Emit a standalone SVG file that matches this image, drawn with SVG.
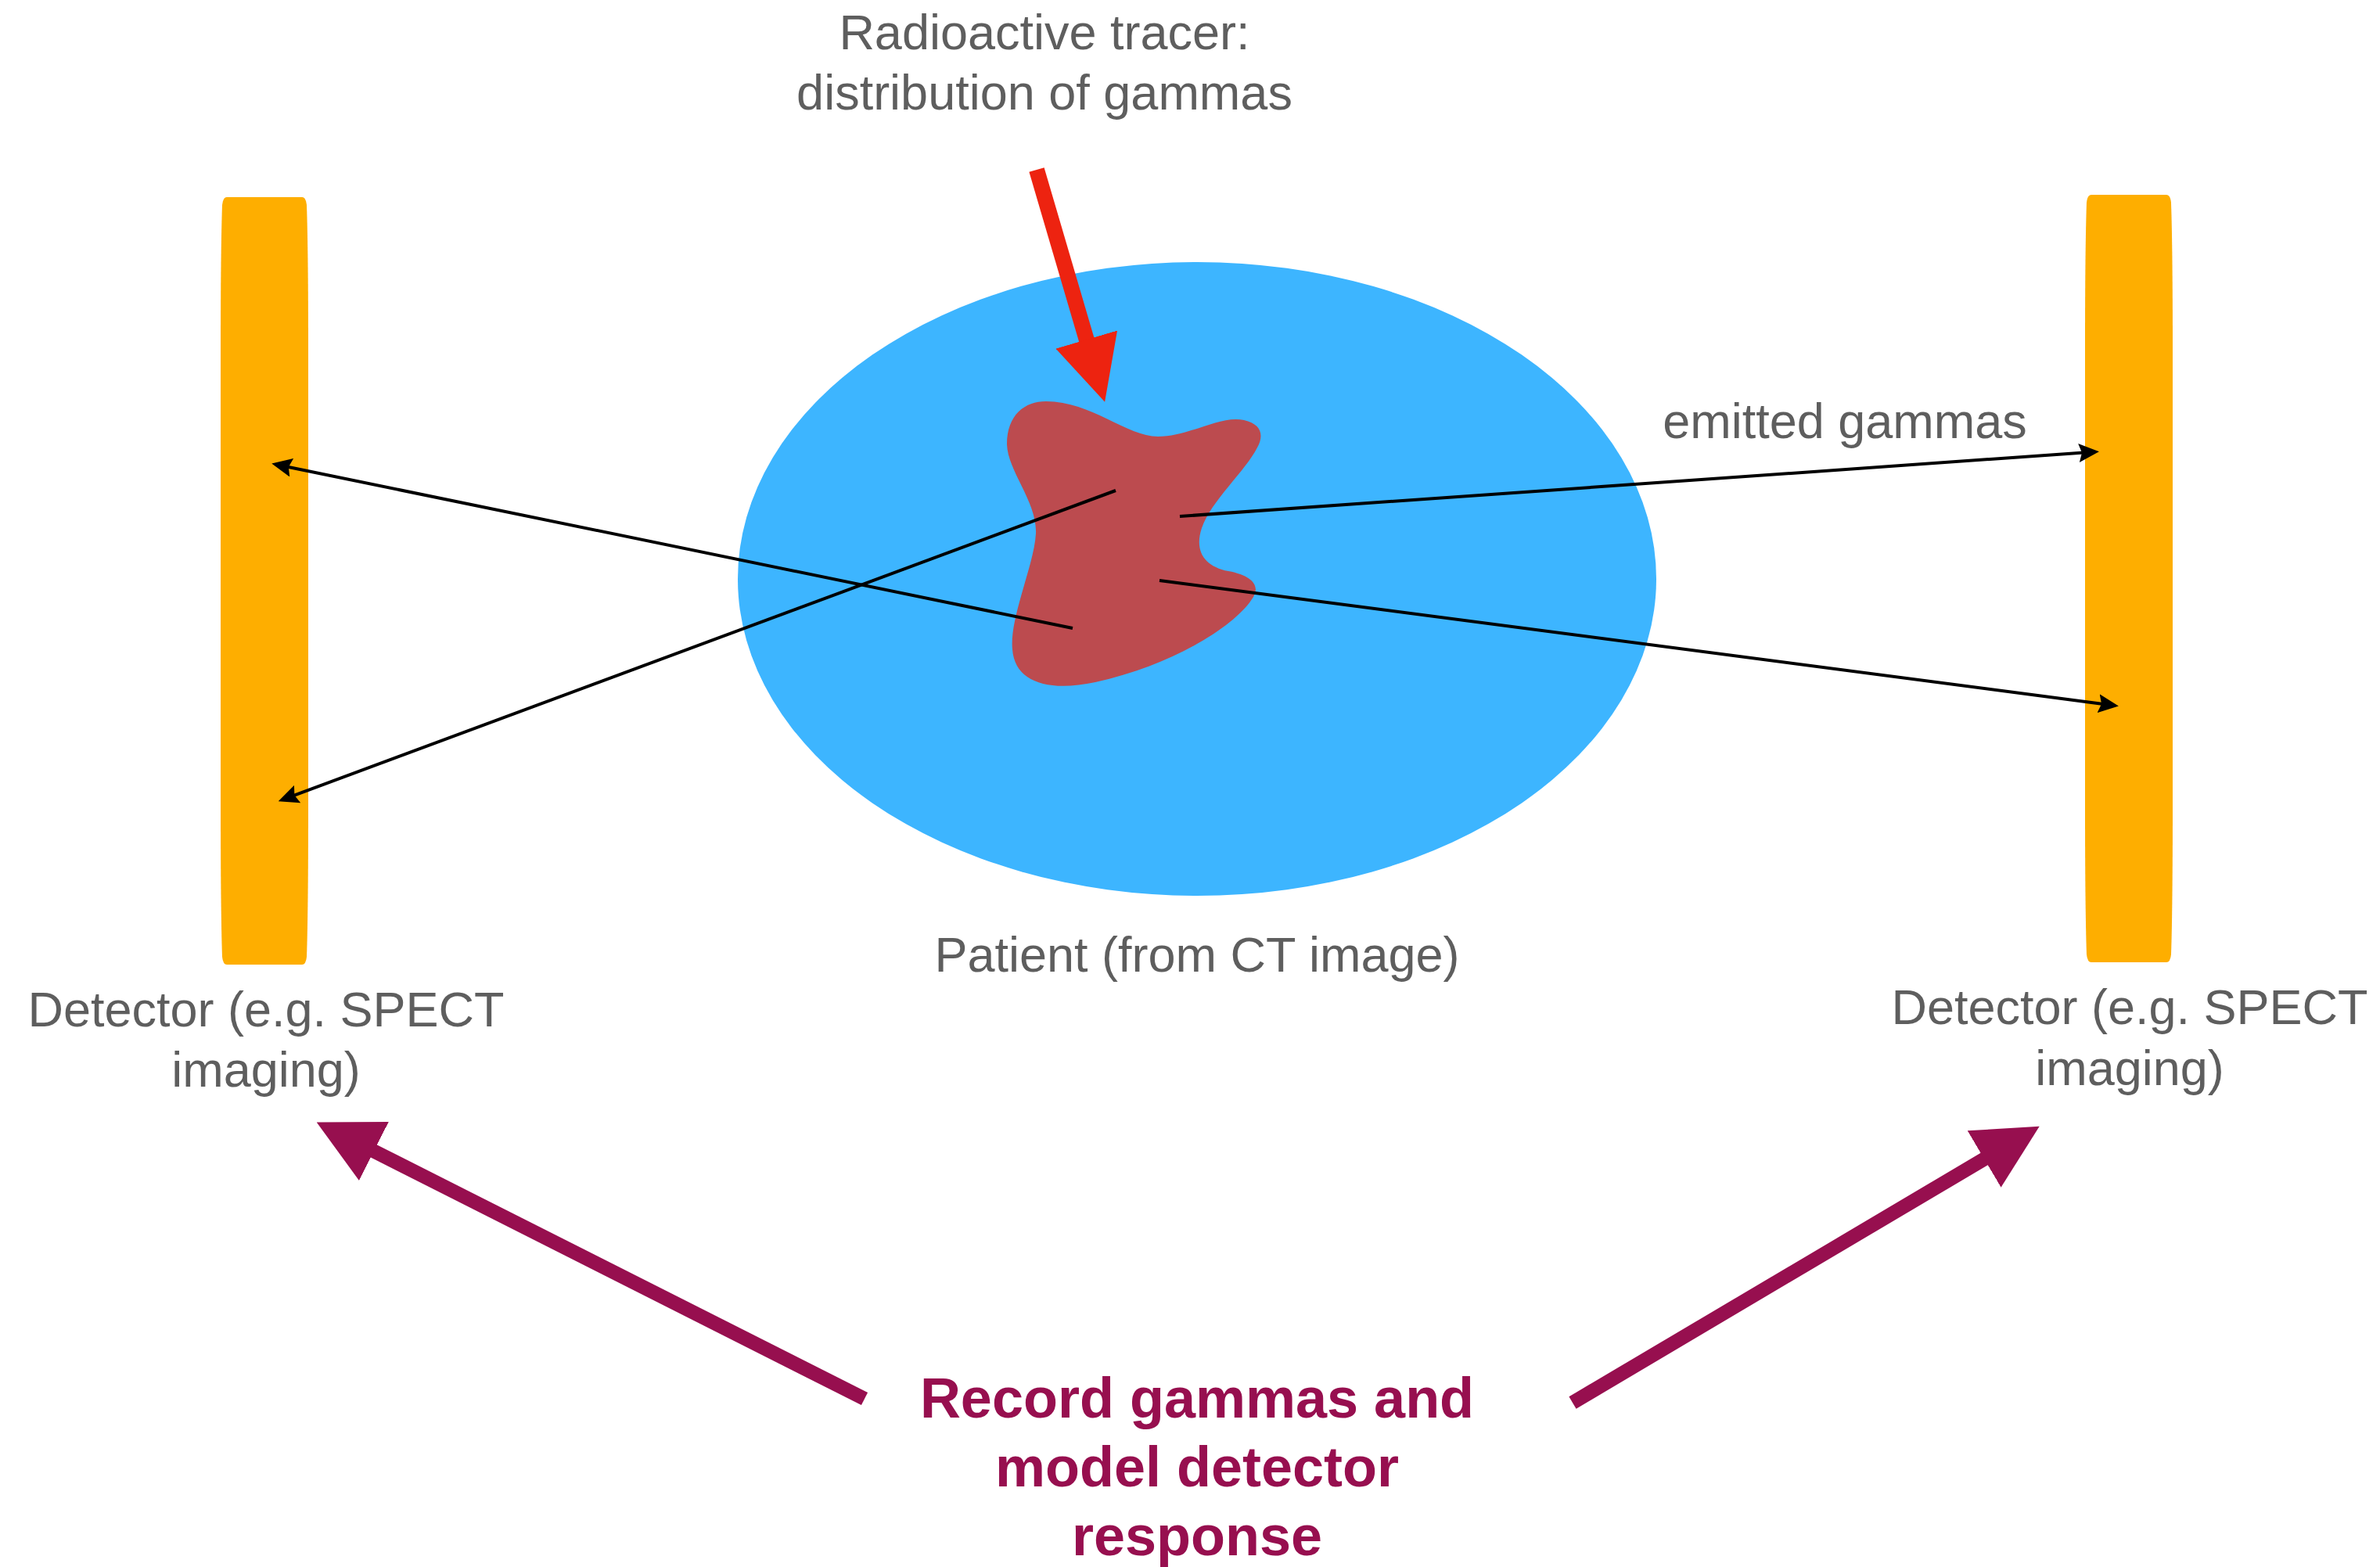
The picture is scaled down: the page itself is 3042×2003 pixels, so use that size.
<svg xmlns="http://www.w3.org/2000/svg" width="3042" height="2003" viewBox="0 0 3042 2003">
  <style>
    .lbl { font-family: "Liberation Sans", Arial, sans-serif; font-size: 63px; fill: #5E5E5E; }
    .bold { font-family: "Liberation Sans", Arial, sans-serif; font-size: 72px; font-weight: bold; fill: #970F4F; }
    .det { fill: #FEAE00; }
    .ray { stroke: #000; stroke-width: 4; fill: none; }
  </style>
  <defs>
    <path id="detShape" d="M 290,252 H 386 Q 391,252 392,262 Q 394,320 394,450 V 1030 Q 394,1165 392,1223 Q 391,1233 386,1233 H 290 Q 285,1233 284,1223 Q 282,1165 282,1030 V 450 Q 282,320 284,262 Q 285,252 290,252 Z"/>
    <marker id="ah" markerUnits="userSpaceOnUse" viewBox="0 0 26 24" refX="14" refY="12" markerWidth="26" markerHeight="24" orient="auto">
      <path d="M0,0 L26,12 L0,24 L4,12 Z" fill="#000"/>
    </marker>
    <marker id="redHead" markerUnits="userSpaceOnUse" viewBox="0 0 83 82" refX="1" refY="41" markerWidth="83" markerHeight="82" orient="auto">
      <path d="M0,0 L83,41 L0,82 Z" fill="#ED2310"/>
    </marker>
    <marker id="purpleHead" markerUnits="userSpaceOnUse" viewBox="0 0 82 84" refX="1" refY="42" markerWidth="82" markerHeight="84" orient="auto">
      <path d="M0,0 L82,42 L0,84 Z" fill="#970F4F"/>
    </marker>
  </defs>
  <rect width="3042" height="2003" fill="#FFFFFF"/>

  <g id="patient">
    <ellipse cx="1530" cy="740" rx="587" ry="405" fill="#3DB5FF"/>
    <text class="lbl" x="1530" y="1242" text-anchor="middle">Patient (from CT image)</text>
  </g>

  <g id="tracer">
    <path d="M 1337,513 C 1395,513 1440,558 1480,558 C 1520,558 1560,530 1590,537 C 1612,542 1616,556 1607,572 C 1592,602 1548,640 1536,675 C 1526,705 1540,724 1570,730 C 1602,736 1612,750 1600,766 C 1578,800 1500,850 1400,872 C 1340,885 1297,872 1294,830 C 1290,790 1322,722 1324,682 C 1326,642 1288,602 1287,568 C 1287,530 1310,513 1337,513 Z" fill="#BC4B4F"/>
  </g>

  <g id="detector-left">
    <use href="#detShape" class="det"/>
    <text class="lbl" x="340" y="1312" text-anchor="middle">Detector (e.g. SPECT</text>
    <text class="lbl" x="340" y="1389" text-anchor="middle">imaging)</text>
  </g>

  <g id="detector-right">
    <use href="#detShape" class="det" transform="translate(2383,-3)"/>
    <text class="lbl" x="2722" y="1309" text-anchor="middle">Detector (e.g. SPECT</text>
    <text class="lbl" x="2722" y="1387" text-anchor="middle">imaging)</text>
  </g>

  <g id="tracer-label">
    <text class="lbl" x="1335" y="63" text-anchor="middle">Radioactive tracer:</text>
    <text class="lbl" x="1335" y="140" text-anchor="middle">distribution of gammas</text>
  </g>

  <g id="emitted-label">
    <text class="lbl" x="2358" y="560" text-anchor="middle">emitted gammas</text>
  </g>

  <g id="record-label">
    <text class="bold" x="1530" y="1812" text-anchor="middle">Record gammas and</text>
    <text class="bold" x="1530" y="1900" text-anchor="middle">model detector</text>
    <text class="bold" x="1530" y="1988" text-anchor="middle">response</text>
  </g>

  <g id="connectors">
    <line class="ray" x1="1426" y1="627" x2="367" y2="1020" marker-end="url(#ah)"/>
    <line class="ray" x1="1371" y1="803" x2="359" y2="595" marker-end="url(#ah)"/>
    <line class="ray" x1="1508" y1="660" x2="2671" y2="578" marker-end="url(#ah)"/>
    <line class="ray" x1="1482" y1="742" x2="2696" y2="901" marker-end="url(#ah)"/>
    <line x1="1325" y1="217" x2="1389" y2="435" stroke="#ED2310" stroke-width="20" marker-end="url(#redHead)"/>
    <line x1="1105" y1="1788" x2="477" y2="1471" stroke="#970F4F" stroke-width="18" marker-end="url(#purpleHead)"/>
    <line x1="2010" y1="1793" x2="2537" y2="1481" stroke="#970F4F" stroke-width="18" marker-end="url(#purpleHead)"/>
  </g>
</svg>
